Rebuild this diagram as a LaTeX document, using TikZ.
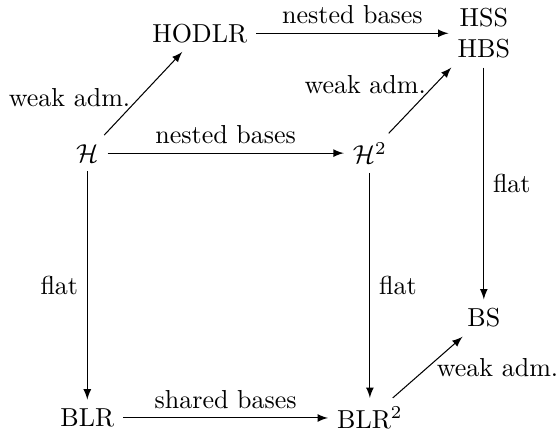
\documentclass[tikz,border=0pt]{standalone}
\begin{document}
\begin{tikzpicture}[x=10mm,y=10mm,>=latex]

  \tikzset{arr/.style={->}}
  \useasboundingbox (0,0) rectangle (7.57,5.95);

  \node (hodlr) at (2.70,5.50) {HODLR};
  \node [align=center] (hss) at (6.54,5.50) {HSS\\HBS};
  \node (h) at (1.18,3.88) {$\mathcal{H}$};
  \node (h2) at (5.00,3.88) {$\mathcal{H}^2$};
  \node (bs) at (6.54,1.65) {BS};
  \node (blr) at (1.18,0.30) {BLR};
  \node (blr2) at (5.00,0.30) {BLR$^2$};

  \draw[arr] (h) -- node[pos=0.45,left] {weak adm.} (hodlr);
  \draw[arr] (hodlr) -- node[midway,above] {nested bases} (hss);
  \draw[arr] (h) -- node[midway,above] {nested bases} (h2);
  \draw[arr] (h2) -- node[pos=0.74,left] {weak adm.} (hss);
  \draw[arr] (hss) -- node[midway,right] {flat} (bs);
  \draw[arr] (h) -- node[midway,left] {flat} (blr);
  \draw[arr] (h2) -- node[midway,right] {flat} (blr2);
  \draw[arr] (blr) -- node[midway,above] {shared bases} (blr2);
  \draw[arr] (blr2) -- node[midway,right] {weak adm.} (bs);

\end{tikzpicture}
\end{document}
